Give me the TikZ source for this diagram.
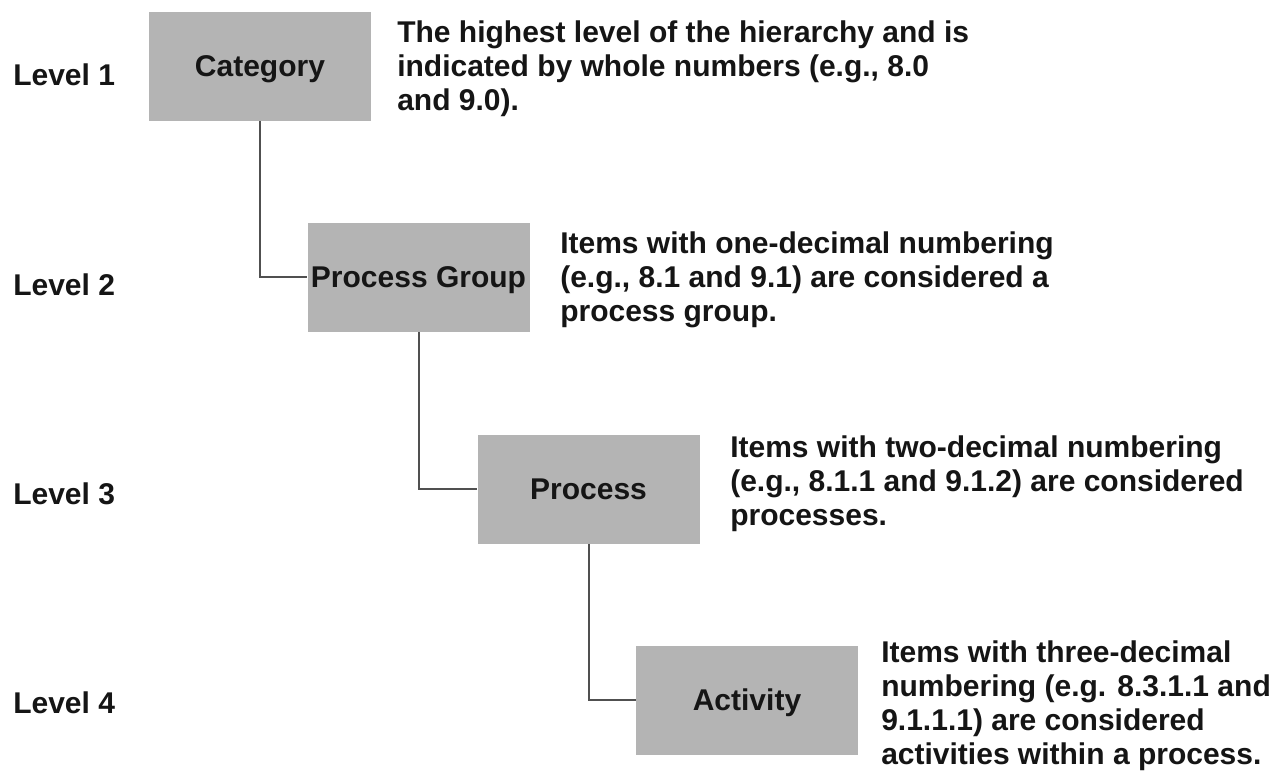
\documentclass[tikz,border=0pt]{standalone}
\usepackage{fontspec}
\setmainfont{Liberation Sans}
\definecolor{boxgray}{HTML}{B4B4B4}
\definecolor{linegray}{HTML}{505050}
\definecolor{ink}{HTML}{151515}
\begin{document}
\begin{tikzpicture}[x=0.75pt,y=-0.75pt,
  every node/.style={text=ink,font=\fontsize{22.5pt}{25.6pt}\selectfont\bfseries},
  levelbox/.style={fill=boxgray,draw=none,minimum width=166.5pt,minimum height=81.75pt,
    inner sep=0pt,text height=16.1pt,text depth=0pt},
  levellabel/.style={anchor=base west,inner sep=0pt},
  note/.style={anchor=north west,inner sep=0pt,align=left},
  link/.style={draw=linegray,line width=1.5pt}]
\useasboundingbox[fill=white] (0,0) rectangle (1276,771);

% hierarchy boxes
\node[levelbox] (cat) at (260,66) {Category};
\node[levelbox] (grp) at (418.5,277) {Process Group};
\node[levelbox] (proc) at (588.5,489) {Process};
\node[levelbox] (act) at (747,700) {Activity};

% elbow connectors
\draw[link] (cat.south) |- (grp.west);
\draw[link] (grp.south) |- (proc.west);
\draw[link] (proc.south) |- (act.west);

% level labels
\node[levellabel] (l1) at (13,85) {Level 1};
\node[levellabel] (l2) at (13,295) {Level 2};
\node[levellabel] (l3) at (13,504) {Level 3};
\node[levellabel] (l4) at (13,713) {Level 4};

% descriptions
\node[note] (d1) at (397,20) {The highest level of the hierarchy and is\\indicated by whole numbers (e.g., 8.0\\and 9.0).};
\node[note] (d2) at (560,231) {Items with one-decimal numbering\\(e.g., 8.1 and 9.1) are considered a\\process group.};
\node[note] (d3) at (730,435) {Items with two-decimal numbering\\(e.g., 8.1.1 and 9.1.2) are considered\\processes.};
\node[note] (d4) at (881,640) {Items with three-decimal\\numbering (e.g. 8.3.1.1 and\\9.1.1.1) are considered\\activities within a process.};
\end{tikzpicture}
\end{document}
